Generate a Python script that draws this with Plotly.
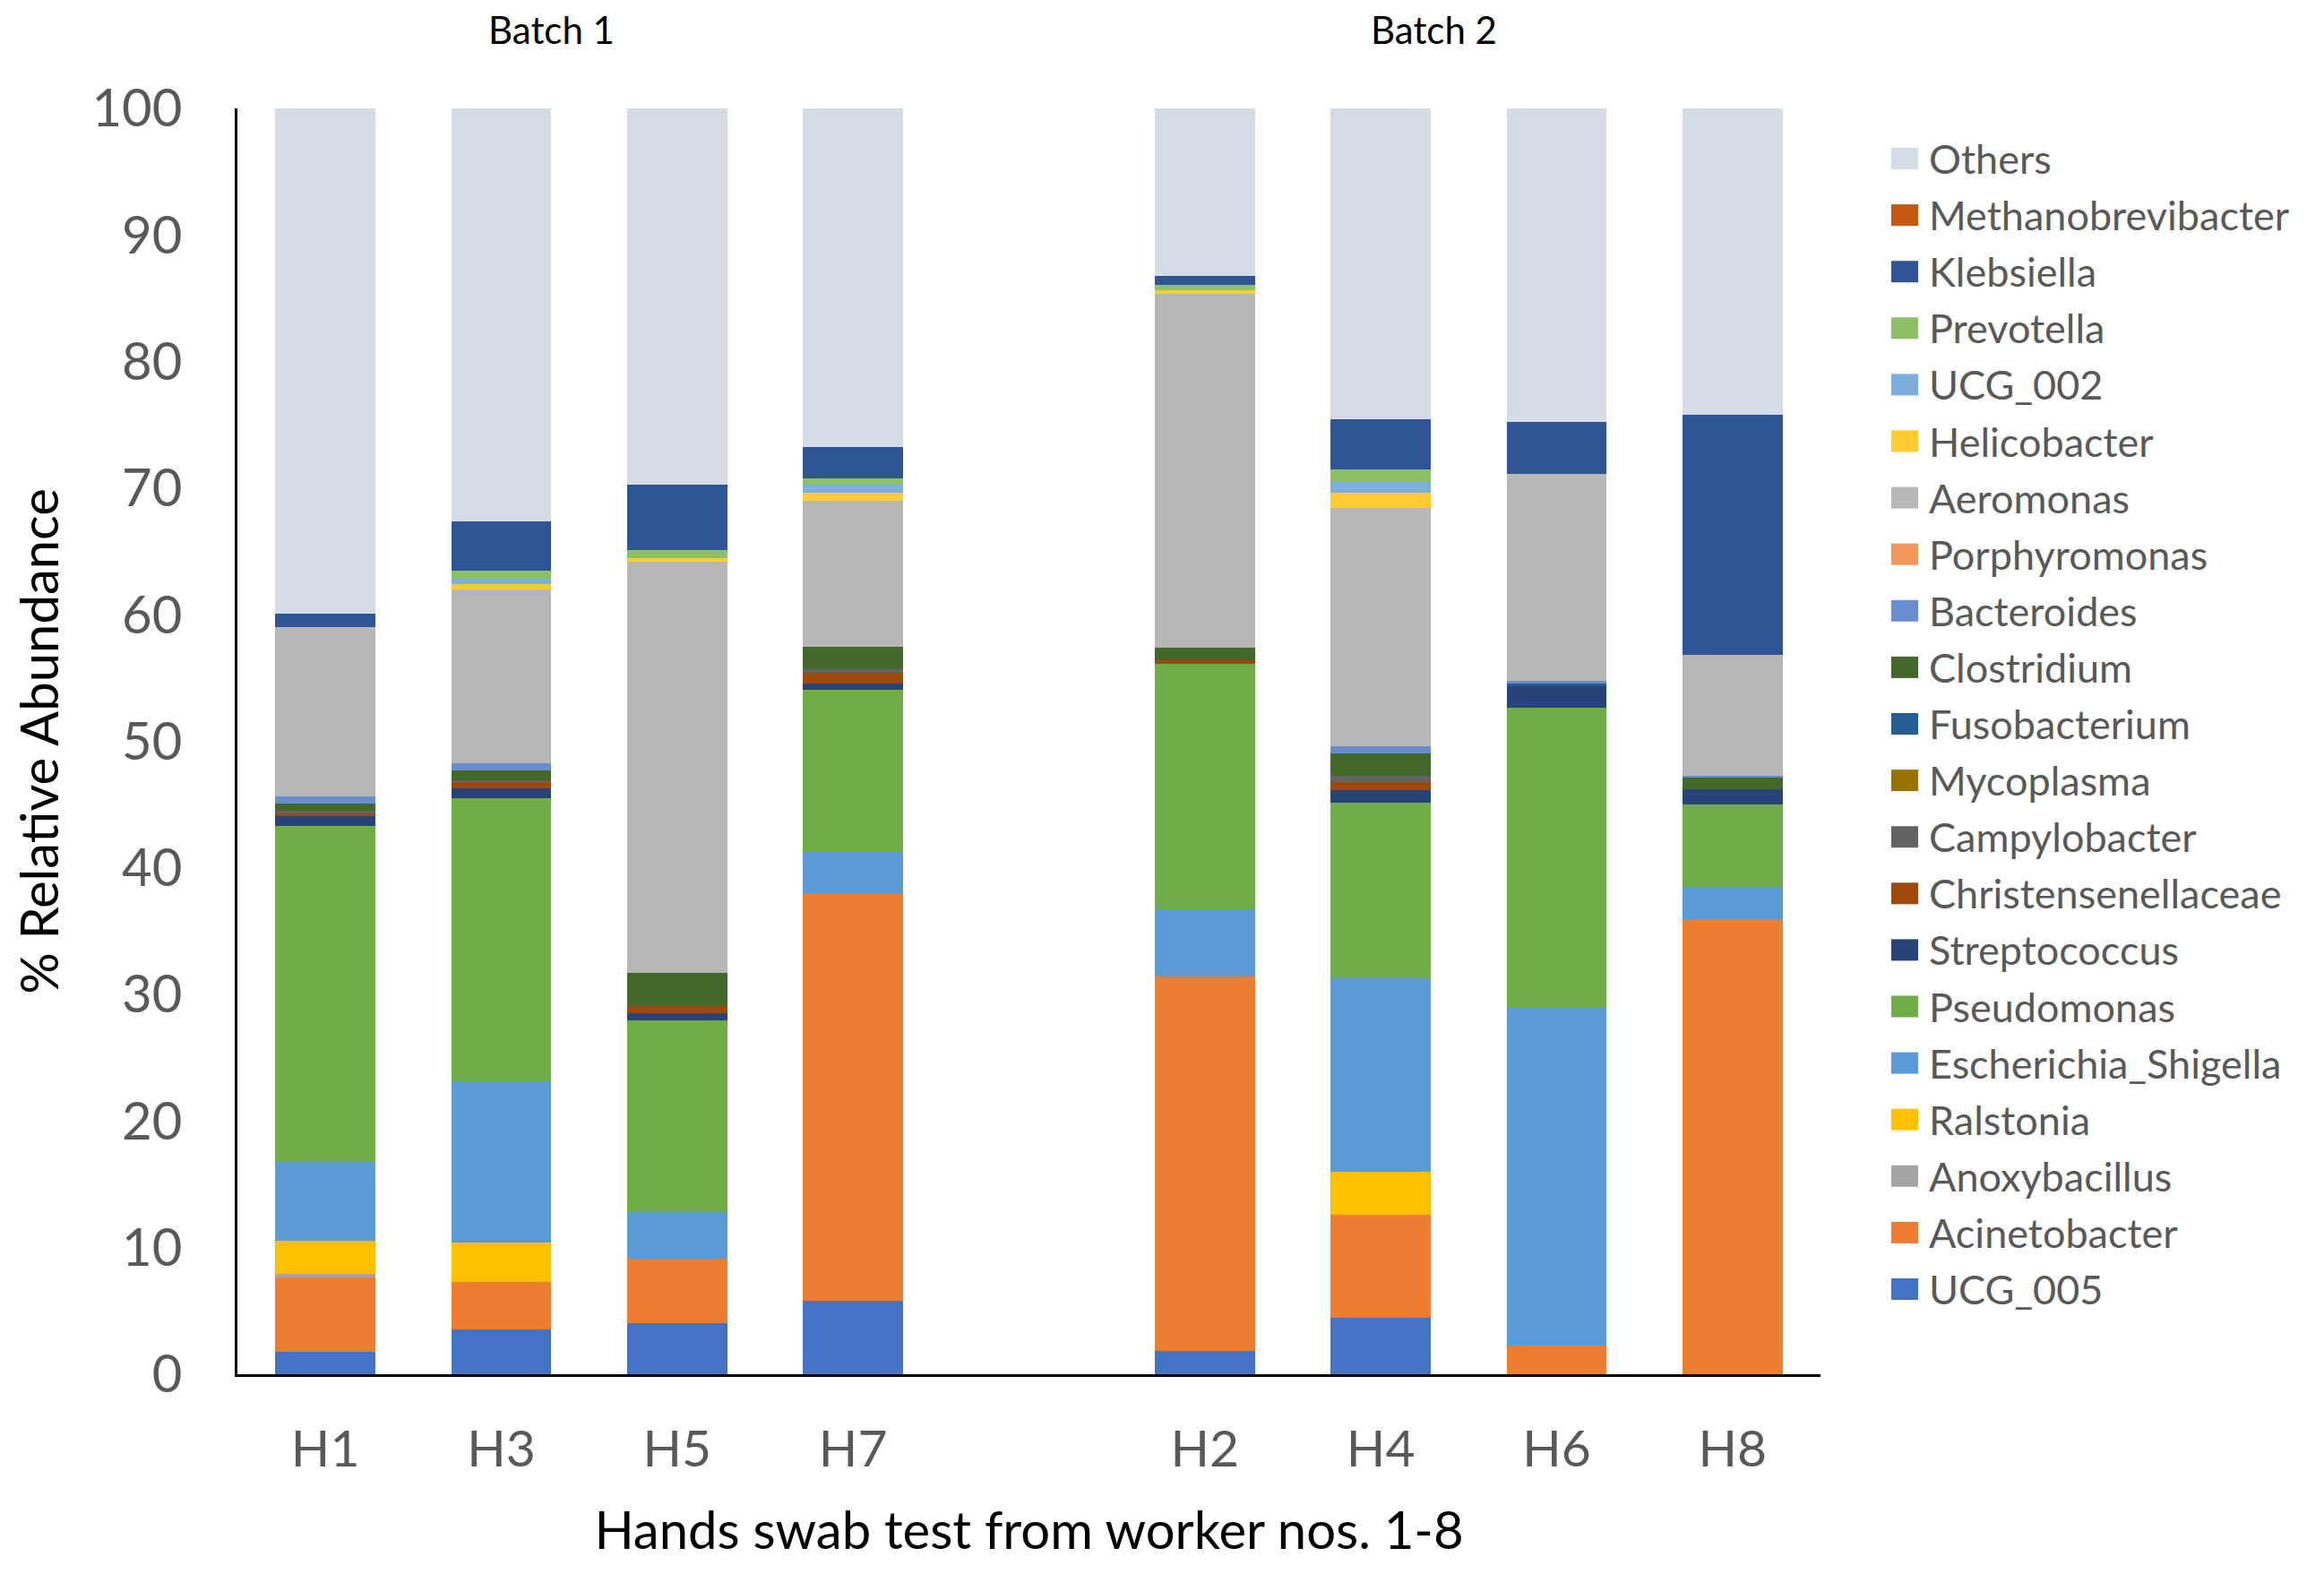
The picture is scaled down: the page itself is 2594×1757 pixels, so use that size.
import plotly.graph_objects as go

# samples in plotting order (batch 1, then batch 2)
samples = ['H1', 'H3', 'H5', 'H7', 'H2', 'H4', 'H6', 'H8']
axis_order = ['H1', 'H3', 'H5', 'H7', ' ', 'H2', 'H4', 'H6', 'H8']

# % relative abundance per genus, same order as samples
UCG_005 = [1.75, 3.54, 4.02, 5.81, 1.87, 4.47, 0, 0]
Acinetobacter = [5.89, 3.78, 5.13, 32.12, 29.55, 8.13, 2.24, 35.85]
Anoxybacillus = [0.29, 0, 0, 0, 0, 0, 0, 0]
Ralstonia = [2.64, 3.05, 0, 0, 0, 3.38, 0, 0]
Escherichia_Shigella = [6.23, 12.8, 3.65, 3.33, 5.33, 15.32, 26.7, 2.65]
Pseudomonas = [26.5, 22.32, 15.17, 12.81, 19.35, 13.82, 23.7, 6.5]
Streptococcus = [0.77, 0.77, 0.53, 0.53, 0, 1.02, 1.71, 1.22]
Christensenellaceae = [0.23, 0.54, 0.57, 0.8, 0.32, 0.61, 0, 0]
Campylobacter = [0.2, 0.15, 0, 0.3, 0, 0.55, 0, 0]
Mycoplasma = [0, 0, 0, 0, 0, 0, 0, 0]
Fusobacterium = [0, 0, 0, 0, 0, 0, 0.2, 0]
Clostridium = [0.6, 0.75, 2.63, 1.8, 0.95, 1.77, 0, 0.88]
Bacteroides = [0.55, 0.55, 0, 0, 0, 0.53, 0.25, 0.15]
Porphyromonas = [0, 0, 0, 0, 0, 0, 0, 0]
Aeromonas = [13.35, 13.75, 32.5, 11.47, 28.0, 18.87, 16.35, 9.55]
Helicobacter = [0, 0.4, 0.25, 0.7, 0.26, 1.2, 0, 0]
UCG_002 = [0, 0.47, 0, 0.63, 0, 0.79, 0, 0]
Prevotella = [0, 0.63, 0.65, 0.47, 0.44, 1.01, 0, 0]
Klebsiella = [1.1, 3.86, 5.2, 2.47, 0.67, 3.98, 4.05, 18.97]
Methanobrevibacter = [0, 0, 0, 0, 0, 0, 0, 0]
Others = [39.9, 32.64, 29.7, 26.76, 13.33, 24.55, 24.8, 24.23]

series = [
    ('UCG_005', UCG_005, '#4472C4'),
    ('Acinetobacter', Acinetobacter, '#ED7D31'),
    ('Anoxybacillus', Anoxybacillus, '#A5A5A5'),
    ('Ralstonia', Ralstonia, '#FFC000'),
    ('Escherichia_Shigella', Escherichia_Shigella, '#5B9BD5'),
    ('Pseudomonas', Pseudomonas, '#70AD47'),
    ('Streptococcus', Streptococcus, '#264478'),
    ('Christensenellaceae', Christensenellaceae, '#9E480E'),
    ('Campylobacter', Campylobacter, '#636363'),
    ('Mycoplasma', Mycoplasma, '#997300'),
    ('Fusobacterium', Fusobacterium, '#255E91'),
    ('Clostridium', Clostridium, '#43682B'),
    ('Bacteroides', Bacteroides, '#698ED0'),
    ('Porphyromonas', Porphyromonas, '#F1975A'),
    ('Aeromonas', Aeromonas, '#B7B7B7'),
    ('Helicobacter', Helicobacter, '#FFCD33'),
    ('UCG_002', UCG_002, '#7CAFDD'),
    ('Prevotella', Prevotella, '#8CC168'),
    ('Klebsiella', Klebsiella, '#2F5597'),
    ('Methanobrevibacter', Methanobrevibacter, '#C65911'),
    ('Others', Others, '#D6DCE5'),
]

fig = go.Figure()
for name, vals, col in series:
    fig.add_trace(go.Bar(x=samples, y=vals, name=name, showlegend=False,
                         marker=dict(color=col, line=dict(width=0))))

# plot area in pixels: used to place the hand-built legend (bigger swatches)
W, H = 2594, 1757
ml, mr, mt, mb = 257, 570, 113, 231
pw, ph = W - ml - mr, H - mt - mb

def px_x(x):
    return (x - 8 - ml) / pw

def px_y(y):
    return 1 - (y - 8 - mt) / ph

leg_top, leg_step = 177, 63.1
for i, (name, vals, col) in enumerate(reversed(series)):
    yc = leg_top + i * leg_step
    fig.add_shape(type='rect', xref='paper', yref='paper',
                  x0=px_x(2111), x1=px_x(2141), y0=px_y(yc - 12), y1=px_y(yc + 12),
                  fillcolor=col, line=dict(width=0))
    fig.add_annotation(text=name, xref='paper', yref='paper', x=px_x(2151), y=px_y(yc),
                       xanchor='left', yanchor='middle', showarrow=False,
                       font=dict(size=45, color='#595959'))

fig.update_layout(
    barmode='stack',
    bargap=0.43,
    width=W, height=H,
    margin=dict(l=ml, r=mr, t=mt, b=mb),
    paper_bgcolor='white', plot_bgcolor='white',
    font=dict(family='Lato, sans-serif', color='#595959'),
    showlegend=False,
)
fig.update_xaxes(
    type='category', categoryorder='array', categoryarray=axis_order,
    showline=True, linecolor='#000000', linewidth=3, showgrid=False,
    tickfont=dict(size=57, color='#595959'), ticklabelstandoff=32,
    title=dict(text='Hands swab test from worker nos. 1-8',
               font=dict(size=58, color='#000000'), standoff=40),
)
fig.update_yaxes(
    range=[0, 100], dtick=10, showline=True, linecolor='#000000', linewidth=3,
    showgrid=False, zeroline=False,
    tickfont=dict(size=58, color='#595959'), ticklabelstandoff=47,
    title=dict(text='% Relative Abundance', font=dict(size=58, color='#000000'), standoff=22),
)
fig.add_annotation(text='Batch 1', x=px_x(615), y=px_y(33), xref='paper', yref='paper',
                   xanchor='center', yanchor='middle',
                   showarrow=False, font=dict(size=42, color='#000000'))
fig.add_annotation(text='Batch 2', x=px_x(1600), y=px_y(33), xref='paper', yref='paper',
                   xanchor='center', yanchor='middle',
                   showarrow=False, font=dict(size=42, color='#000000'))

fig.write_html('out.html')
